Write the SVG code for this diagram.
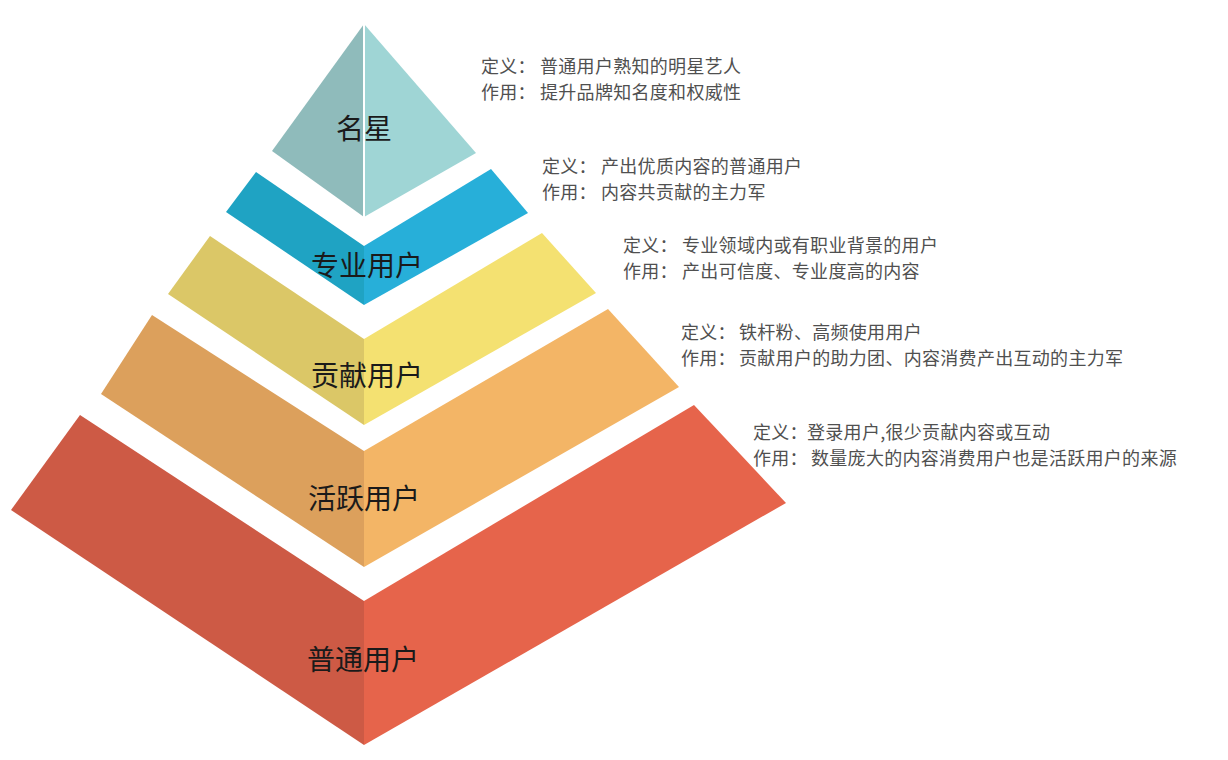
<svg xmlns="http://www.w3.org/2000/svg" width="1228" height="760" viewBox="0 0 1228 760">
<style>
.lbl{font-family:"Noto Sans CJK SC","Noto Sans",sans-serif;font-size:28px;fill:#1a1a1a;text-anchor:middle;dominant-baseline:central}
.desc{font-family:"Noto Sans CJK SC","Noto Sans",sans-serif;font-size:18px;letter-spacing:0.3px;fill:#505050;dominant-baseline:central}
</style>
<rect width="1228" height="760" fill="#ffffff"/>
<g id="star">
<polygon points="364,24 364,217 272,151" fill="#8fbbbb"/>
<polygon points="364,24 476,153 364,217" fill="#9fd5d5"/>
<line x1="364" y1="24" x2="364" y2="217" stroke="#ffffff" stroke-width="2"/>
<text class="lbl" x="364" y="127">名星</text>
</g>
<g id="pro">
<polygon points="256,172 364,246 364,305 226,212" fill="#1fa3c3"/>
<polygon points="364,246 491,169 528,213 364,305" fill="#27afd9"/>
<text class="lbl" x="367" y="264">专业用户</text>
</g>
<g id="contrib">
<polygon points="210,236 364,339 364,425 168,294" fill="#dbc767"/>
<polygon points="364,339 542,233 596,293 364,425" fill="#f4e171"/>
<text class="lbl" x="367" y="374">贡献用户</text>
</g>
<g id="active">
<polygon points="152,315 364,451 364,567 101,394" fill="#dca05c"/>
<polygon points="364,451 608,309 679,387 364,567" fill="#f3b566"/>
<text class="lbl" x="364" y="497">活跃用户</text>
</g>
<g id="normal">
<polygon points="80,415 364,601 364,745 11,510" fill="#cd5a45"/>
<polygon points="364,601 694,405 786,503 364,745" fill="#e6644b"/>
<text class="lbl" x="363" y="658">普通用户</text>
</g>
<g id="descriptions">
<text class="desc" x="481" y="65">定义：<tspan x="540">普通用户熟知的明星艺人</tspan></text>
<text class="desc" x="481" y="91">作用：<tspan x="540">提升品牌知名度和权威性</tspan></text>
<text class="desc" x="542" y="165">定义：<tspan x="601">产出优质内容的普通用户</tspan></text>
<text class="desc" x="542" y="191">作用：<tspan x="601">内容共贡献的主力军</tspan></text>
<text class="desc" x="623" y="244">定义：<tspan x="682">专业领域内或有职业背景的用户</tspan></text>
<text class="desc" x="623" y="270">作用：<tspan x="682">产出可信度、专业度高的内容</tspan></text>
<text class="desc" x="681" y="331">定义：<tspan x="739">铁杆粉、高频使用用户</tspan></text>
<text class="desc" x="681" y="357">作用：<tspan x="739">贡献用户的助力团、内容消费产出互动的主力军</tspan></text>
<text class="desc" x="753" y="431">定义：<tspan x="807">登录用户,很少贡献内容或互动</tspan></text>
<text class="desc" x="753" y="457">作用：<tspan x="811">数量庞大的内容消费用户也是活跃用户的来源</tspan></text>
</g>
</svg>
